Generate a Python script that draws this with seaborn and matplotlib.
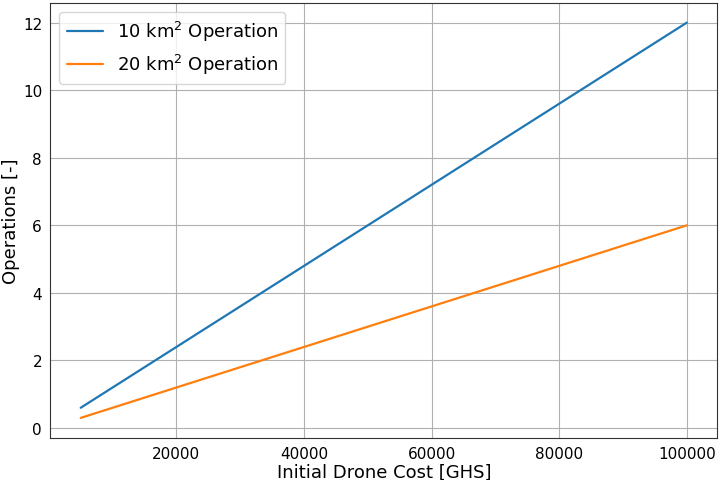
import pandas as pd
import seaborn as sns
import matplotlib.pyplot as plt

# Initial drone cost [GHS] and number of operations
cost = [5000, 10000, 20000, 30000, 40000, 50000, 60000, 70000, 80000, 90000, 100000]
ops_10km = [0.6, 1.2, 2.4, 3.6, 4.8, 6.0, 7.2, 8.4, 9.6, 10.8, 12.0]
ops_20km = [0.3, 0.6, 1.2, 1.8, 2.4, 3.0, 3.6, 4.2, 4.8, 5.4, 6.0]
labels = ["10 km$^2$ Operation", "20 km$^2$ Operation"]

df = pd.concat([
    pd.DataFrame({"cost": cost, "ops": ops_10km, "Area": labels[0]}),
    pd.DataFrame({"cost": cost, "ops": ops_20km, "Area": labels[1]}),
], ignore_index=True)

sns.set_style("white")
plt.rcParams["font.family"] = ["DejaVu Sans"]
plt.rcParams["text.color"] = "black"

fig, ax = plt.subplots(figsize=(7.2, 4.81), dpi=100)
sns.lineplot(data=df, x="cost", y="ops", hue="Area",
             palette=["#1f77b4", "#ff7f0e"], linewidth=1.6, ax=ax)

ax.set_xlabel("Initial Drone Cost [GHS]", fontsize=13, color="black", labelpad=1)
ax.set_ylabel("Operations [-]", fontsize=13, color="black", labelpad=2)
ax.tick_params(labelsize=11, length=3.5, pad=2.5, color="#333333", labelcolor="black")
ax.set_yticks([0, 2, 4, 6, 8, 10, 12])
ax.set_xticks([20000, 40000, 60000, 80000, 100000])
ax.grid(True, color="#b0b0b0", linewidth=0.8)
for s in ax.spines.values():
    s.set_color("#333333")
ax.legend(title=None, fontsize=13, loc="upper left", framealpha=0.8)

fig.subplots_adjust(left=0.07, right=0.996, top=0.992, bottom=0.088)
fig.savefig("out.png", dpi=100)
